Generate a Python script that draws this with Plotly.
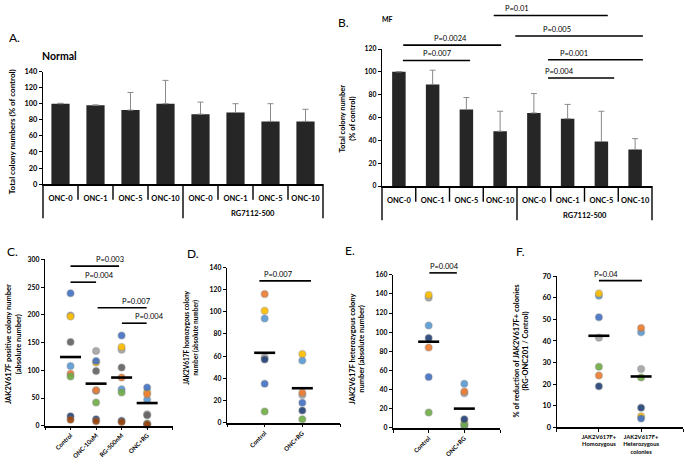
import plotly.graph_objects as go

W, H = 685, 467
FONT = "Lato"

# ---------------- data ----------------
# A / B : colony numbers as % of control
doses = ["ONC-0", "ONC-1", "ONC-5", "ONC-10", "ONC-0", "ONC-1", "ONC-5", "ONC-10"]
dose_groups = ["", "RG7112-500"]
group_sizes = [4, 4]
normal_pct = [100, 98, 92, 100, 87, 89, 78, 78]
normal_sd = [0.5, 0.5, 22, 29, 15, 11, 22, 15]
mf_pct = [100, 89, 67, 48, 64, 59, 39, 32]
mf_sd = [0.3, 12.5, 10.5, 17.5, 17, 12.5, 26.5, 9.5]
# (from, to, height, label x, label)
mf_pvals = [
    (0.12, 2.11, 110, 1.13, "P=0.007"),
    (0.13, 3.03, 123.4, 1.52, "P=0.0024"),
    (2.81, 6.19, 149.4, 3.9, "P=0.01"),
    (3.45, 7.23, 131.4, 5.16, "P=0.005"),
    (4.42, 7.23, 110.6, 5.67, "P=0.001"),
    (4.42, 6.38, 94.6, 5.25, "P=0.004"),
]

# one colour per patient (drawing order)
patient_colors = ["#A5A5A5", "#5B9BD5", "#FFC000", "#4472C4", "#ED7D31",
                  "#70AD47", "#264478", "#9E480E", "#636363"]

# C : JAK2V617F positive colonies
c_groups = ["Control", "ONC-10uM", "RG-500nM", "ONC+RG"]
c_values = [
    [199, 135, 137, 21],
    [108, 63, 66, 47],
    [197, 114, 142, 61],
    [239, 117, 163, 69],
    [94, 64, 87, 57],
    [89, 42, 60, 4],
    [17, 12, 9, 2],
    [11, 8, 7, 3],
    [151, 99, 105, 19],
]
c_means = [124, 76, 87, 41]
c_pvals = [
    (0, 1.9, 288, 0.93, "P=0.003"),
    (0, 1.0, 259, 0.49, "P=0.004"),
    (1.06, 2.98, 213, 1.93, "P=0.007"),
    (2.01, 2.98, 185, 2.46, "P=0.004"),
]

# D : homozygous colonies
d_groups = ["Control", "ONC+RG"]
d_values = [[59, 25], [94, 56], [101, 62], [35, 18], [116, 27], [10, 3], [57, 11]]
d_means = [63, 31]
d_pvals = [(-0.14, 1.23, 128, 0.38, "P=0.007")]

# E : heterozygous colonies
e_groups = ["Control", "ONC+RG"]
e_values = [[136, 36], [107, 46], [139, 5], [53, 2], [84, 38], [16, 3], [94, 9]]
e_means = [90, 20]
e_pvals = [(0.02, 0.79, 162, 0.45, "P=0.004")]

# F : % reduction
f_groups = ["JAK2V617F+<br>Homozygous", "JAK2V617F+<br>Heterozygous<br>colonies"]
f_values = [[41.5, 27], [61, 44], [62, 5], [51, 4], [24, 46], [28, 23], [19, 9]]
f_means = [42.4, 23.5]
f_pvals = [(0, 1.02, 68, 0.51, "P=0.04")]

# ---------------- panel geometry (pixels: left, right, bottom, top) ----------------
panels = {
    1: dict(px=(43, 323, 183, 68), xr=(-0.5, 7.5), yr=(0, 140), dtick=20),
    2: dict(px=(382, 652, 185, 45), xr=(-0.5, 7.5), yr=(0, 120), dtick=20),
    3: dict(px=(45, 172.7, 430, 260), xr=(-1, 4), yr=(0, 300), dtick=50),
    4: dict(px=(227, 340, 426.7, 268.3), xr=(-1, 2), yr=(0, 140), dtick=20),
    5: dict(px=(393, 500, 432, 275.7), xr=(-1, 2), yr=(0, 160), dtick=20),
    6: dict(px=(556.7, 683.3, 431.3, 277.3), xr=(-1, 2), yr=(0, 70), dtick=10),
}


def to_paper(k, xv, yv):
    l, r, b, t = panels[k]["px"]
    xa, xb = panels[k]["xr"]
    ya, yb = panels[k]["yr"]
    xp = l + (xv - xa) / (xb - xa) * (r - l)
    yp = b - (yv - ya) / (yb - ya) * (b - t)
    return xp / W, 1 - yp / H


def bold(size):
    return dict(family=FONT, size=size, color="black", weight="bold")


fig = go.Figure()
shapes = []
annotations = []

# ---- bar panels A, B ----
for k, vals, sd in ((1, normal_pct, normal_sd), (2, mf_pct, mf_sd)):
    fig.add_trace(go.Bar(
        x=list(range(len(doses))), y=vals,
        width=0.52 if k == 1 else 0.4,
        marker=dict(color="#262626", line=dict(width=0)),
        error_y=dict(type="data", symmetric=False, array=sd, arrayminus=[0] * len(sd),
                     color="#8a8a8a", thickness=1, width=3),
        xaxis=f"x{k}", yaxis=f"y{k}",
    ))
    # category separators (Excel multi-level axis)
    bounds = [0]
    for g in group_sizes:
        bounds.append(bounds[-1] + g)
    for j in range(len(doses) + 1):
        drop = 35 if j in bounds else 16
        x, y = to_paper(k, j - 0.5, 0)
        shapes.append(dict(type="line", xref="paper", yref="paper", x0=x, x1=x,
                           y0=y, y1=y - drop / H, line=dict(color="black", width=1.4)))
    for g, name in enumerate(dose_groups):
        if name:
            mid = (bounds[g] + bounds[g + 1] - 1) / 2
            _, yb = to_paper(k, 0, 0)
            annotations.append(dict(text=name, x=mid, xref=f"x{k}", y=yb - 30 / H, yref="paper",
                                    showarrow=False, font=bold(7.5), yanchor="middle"))

# ---- dot panels C-F ----
dot_sets = [
    (3, c_groups, c_values, c_means),
    (4, d_groups, d_values, d_means),
    (5, e_groups, e_values, e_means),
    (6, f_groups, f_values, f_means),
]
for k, groups, values, means in dot_sets:
    xs = list(range(len(groups)))
    for p, row in enumerate(values):
        fig.add_trace(go.Scatter(
            x=xs, y=row, mode="markers", cliponaxis=False,
            marker=dict(size=7, color=patient_colors[p], opacity=0.92,
                        line=dict(color="rgba(130,130,130,0.35)", width=1.5)),
            xaxis=f"x{k}", yaxis=f"y{k}",
        ))
    fig.add_trace(go.Scatter(
        x=xs, y=means, mode="markers", cliponaxis=False,
        marker=dict(symbol="line-ew", size=15, line=dict(color="black", width=2.6)),
        xaxis=f"x{k}", yaxis=f"y{k}",
    ))

# ---- significance bars (drawn in paper space so they can sit above the axes) ----
for k, pv in ((2, mf_pvals), (3, c_pvals), (4, d_pvals), (5, e_pvals), (6, f_pvals)):
    for x0, x1, yv, lx, txt in pv:
        ax0, ay = to_paper(k, x0, yv)
        ax1, _ = to_paper(k, x1, yv)
        lxp, _ = to_paper(k, lx, yv)
        shapes.append(dict(type="line", xref="paper", yref="paper", x0=ax0, x1=ax1,
                           y0=ay, y1=ay, line=dict(color="black", width=1.6)))
        annotations.append(dict(text=txt, x=lxp, xref="paper", y=ay, yref="paper",
                                yanchor="bottom", yshift=0, showarrow=False,
                                font=dict(family=FONT, size=7.5, color="black")))

# ---- axes ----
layout_axes = {}
for k, pnl in panels.items():
    l, r, b, t = pnl["px"]
    xa = dict(domain=[l / W, r / W], range=list(pnl["xr"]), anchor=f"y{k}",
              showline=True, linecolor="black", linewidth=1.6, showgrid=False, zeroline=False)
    if k in (1, 2):
        xa.update(tickmode="array", tickvals=list(range(len(doses))), ticktext=doses,
                  ticks="outside", ticklen=6, tickcolor="rgba(0,0,0,0)", tickfont=bold(7.5))
    else:
        groups = dot_sets[k - 3][1]
        lo, hi = int(pnl["xr"][0]), int(pnl["xr"][1])
        tv = list(range(lo, hi + 1))
        tt = [groups[i] if 0 <= i < len(groups) else "" for i in tv]
        xa.update(tickmode="array", tickvals=tv, ticktext=tt, ticks="outside",
                  ticklen=2 if k == 3 else 3,
                  tickcolor="black", tickwidth=1.2,
                  tickangle=0 if k == 6 else -45,
                  tickfont=bold(5.8 if k == 6 else 6.1))
    ya = dict(domain=[1 - b / H, 1 - t / H], range=list(pnl["yr"]), dtick=pnl["dtick"],
              anchor=f"x{k}", showline=True, linecolor="black", linewidth=1.4,
              ticks="outside", ticklen=3, tickwidth=1.2, tickcolor="black",
              showgrid=False, zeroline=False, tickfont=bold(7.4 if k in (1, 6) else 6.8))
    layout_axes[f"xaxis{k}"] = xa
    layout_axes[f"yaxis{k}"] = ya


# ---- titles / labels ----
def ptext(text, x, y, size, weight="normal", angle=0, xanchor="center"):
    annotations.append(dict(text=text, x=x / W, y=1 - y / H, xref="paper", yref="paper",
                            showarrow=False, textangle=angle, xanchor=xanchor, yanchor="middle",
                            font=dict(family=FONT, size=size, color="black", weight=weight)))


ptext("A.", 7, 33, 12, xanchor="left")
ptext("B.", 336, 18, 12, xanchor="left")
ptext("C.", 5, 252, 12, xanchor="left")
ptext("D.", 185, 254, 12, xanchor="left")
ptext("E.", 343, 251, 12, xanchor="left")
ptext("F.", 514, 252, 12, xanchor="left")
ptext("Normal", 40, 52, 10.5, "bold", xanchor="left")
ptext("MF", 380, 14, 7, "bold", xanchor="left")

ptext("Total colony numbers (% of control)", 12, 130, 8, "bold", -90)
ptext("Total colony number<br>(% of control)", 348, 116, 7.5, "bold", -90)
ptext("JAK2V617F positive colony number<br>(absolute number)", 13.5, 347, 7.5, "bold", -90)
ptext("JAK2V617F homozygous colony<br>number (absolute number)", 191, 340, 6.5, "bold", -90)
ptext("JAK2V617F heterozygous colony<br>number (absolute number)", 357, 352, 7.5, "bold", -90)
ptext("% of reduction of JAK2V617F+ colonies<br>(RG-ONC201 / Control)", 521, 353, 7.5, "bold", -90)

fig.update_layout(
    width=W, height=H, margin=dict(l=0, r=0, t=0, b=0),
    paper_bgcolor="white", plot_bgcolor="white", showlegend=False,
    font=dict(family=FONT, color="black"),
    shapes=shapes, annotations=annotations, **layout_axes,
)

# the page's default 8px body margin would push the figure off the window
fig.write_html("out.html", config={"displayModeBar": False},
               post_script="document.body.style.margin = '0px';")
